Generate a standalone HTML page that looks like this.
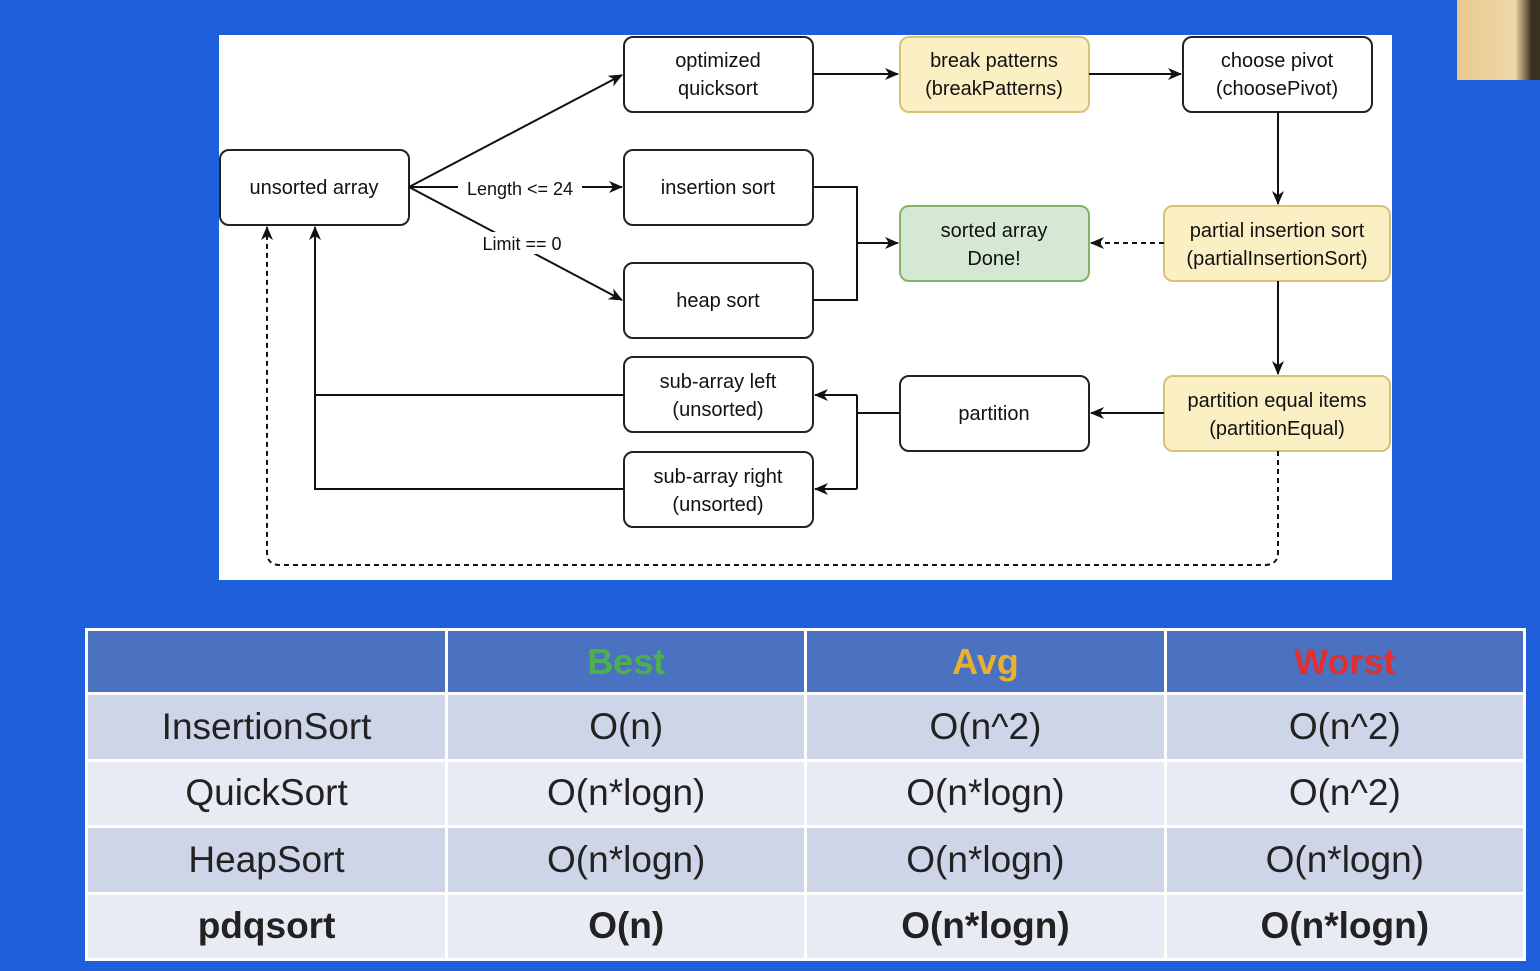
<!DOCTYPE html>
<html><head><style>
body{margin:0;width:1540px;height:971px;background:#1f5fdc;position:relative;overflow:hidden;font-family:"Liberation Sans",sans-serif}
#photo{position:absolute;left:1457px;top:0;width:83px;height:80px;background:linear-gradient(90deg,#e8c890,#f0d8a8 70%,#3a3020 90%)}
svg{position:absolute;left:0;top:0}
table{position:absolute;left:85px;top:628px;width:1441px;border-collapse:collapse;font-size:37px;color:#222;text-align:center}
td{border:3px solid #fff;height:63.5px;padding:0;width:360px}
tr.h td{background:#4a72c0;font-weight:bold;height:61px;font-size:36px}
tr.a td{background:#cfd5e8}
tr.b td{background:#e8ebf3}
tr.p td{font-weight:bold}
</style></head><body>
<div id="photo"></div>
<svg width="1540" height="971" font-family="Liberation Sans, sans-serif" font-size="20" text-anchor="middle">
<defs><marker id="ar" markerWidth="14" markerHeight="14" refX="13" refY="7" orient="auto" markerUnits="userSpaceOnUse"><path d="M0,1 L14,7 L0,13 L4,7z" fill="#111"/></marker></defs>
<rect x="219" y="35" width="1173" height="545" fill="#fff"/>
<g stroke="#222" stroke-width="2" fill="#fff">
<rect x="220" y="150" width="189" height="75" rx="9"/>
<rect x="624" y="37" width="189" height="75" rx="9"/>
<rect x="900" y="37" width="189" height="75" rx="9" fill="#fbefc4" stroke="#d6c27a"/>
<rect x="1183" y="37" width="189" height="75" rx="9"/>
<rect x="624" y="150" width="189" height="75" rx="9"/>
<rect x="624" y="263" width="189" height="75" rx="9"/>
<rect x="900" y="206" width="189" height="75" rx="9" fill="#d5e8d4" stroke="#82b366"/>
<rect x="1164" y="206" width="226" height="75" rx="9" fill="#fbefc4" stroke="#d6c27a"/>
<rect x="624" y="357" width="189" height="75" rx="9"/>
<rect x="624" y="452" width="189" height="75" rx="9"/>
<rect x="900" y="376" width="189" height="75" rx="9"/>
<rect x="1164" y="376" width="226" height="75" rx="9" fill="#fbefc4" stroke="#d6c27a"/>
</g>
<g stroke="#111" stroke-width="2" fill="none">
<path d="M409,187 L622,75" marker-end="url(#ar)"/>
<path d="M409,187 L622,187" marker-end="url(#ar)"/>
<path d="M409,187 L622,300" marker-end="url(#ar)"/>
<path d="M813,74 L898,74" marker-end="url(#ar)"/>
<path d="M1089,74 L1181,74" marker-end="url(#ar)"/>
<path d="M1278,112 L1278,204" marker-end="url(#ar)"/>
<path d="M813,187 L857,187 L857,300 L813,300" />
<path d="M857,243 L898,243" marker-end="url(#ar)"/>
<path d="M1164,243 L1091,243" stroke-dasharray="5,4" marker-end="url(#ar)"/>
<path d="M1278,281 L1278,374" marker-end="url(#ar)"/>
<path d="M1164,413 L1091,413" marker-end="url(#ar)"/>
<path d="M900,413 L857,413 M857,395 L857,489"/>
<path d="M857,395 L815,395" marker-end="url(#ar)"/>
<path d="M857,489 L815,489" marker-end="url(#ar)"/>
<path d="M624,395 L315,395"/>
<path d="M624,489 L315,489 L315,227" marker-end="url(#ar)"/>
<path d="M1278,451 L1278,552 Q1278,565 1265,565 L280,565 Q267,565 267,552 L267,227" stroke-dasharray="5,4" marker-end="url(#ar)"/>
</g>
<rect x="458" y="177" width="124" height="22" fill="#fff"/>
<rect x="474" y="232" width="96" height="22" fill="#fff"/>
<g fill="#111">
<text x="314" y="194">unsorted array</text>
<text x="718" y="67">optimized</text><text x="718" y="95">quicksort</text>
<text x="994" y="67">break patterns</text><text x="994" y="95">(breakPatterns)</text>
<text x="1277" y="67">choose pivot</text><text x="1277" y="95">(choosePivot)</text>
<text x="718" y="194">insertion sort</text>
<text x="718" y="307">heap sort</text>
<text x="994" y="237">sorted array</text><text x="994" y="265">Done!</text>
<text x="1277" y="237">partial insertion sort</text><text x="1277" y="265">(partialInsertionSort)</text>
<text x="718" y="388">sub-array left</text><text x="718" y="416">(unsorted)</text>
<text x="718" y="483">sub-array right</text><text x="718" y="511">(unsorted)</text>
<text x="994" y="420">partition</text>
<text x="1277" y="407">partition equal items</text><text x="1277" y="435">(partitionEqual)</text>
<text x="520" y="195" font-size="18">Length &lt;= 24</text>
<text x="522" y="250" font-size="18">Limit == 0</text>
</g>
</svg>
<table>
<tr class="h"><td></td><td style="color:#4caf50">Best</td><td style="color:#e8b030">Avg</td><td style="color:#e03030">Worst</td></tr>
<tr class="a"><td>InsertionSort</td><td>O(n)</td><td>O(n^2)</td><td>O(n^2)</td></tr>
<tr class="b"><td>QuickSort</td><td>O(n*logn)</td><td>O(n*logn)</td><td>O(n^2)</td></tr>
<tr class="a"><td>HeapSort</td><td>O(n*logn)</td><td>O(n*logn)</td><td>O(n*logn)</td></tr>
<tr class="b p"><td>pdqsort</td><td>O(n)</td><td>O(n*logn)</td><td>O(n*logn)</td></tr>
</table>
</body></html>
